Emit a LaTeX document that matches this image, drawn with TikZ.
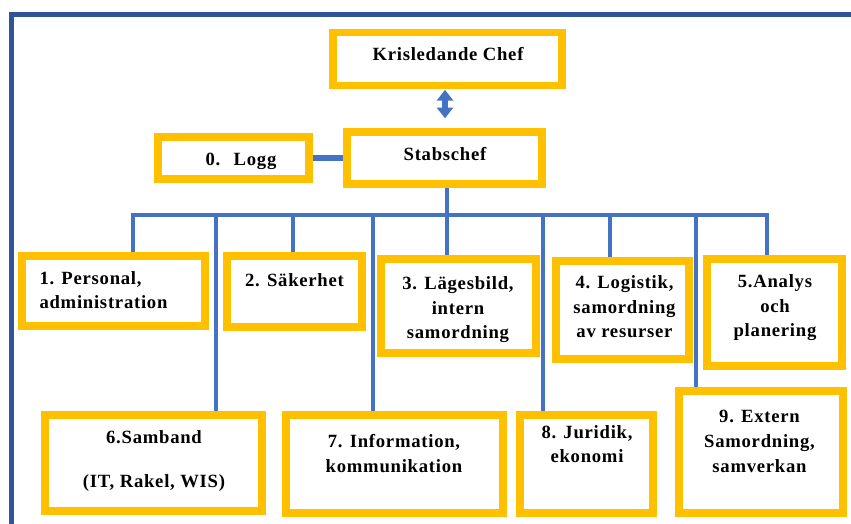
\documentclass[tikz,border=0pt]{standalone}
\usepackage{fontspec}
\newfontfamily\orgfont{Liberation Serif}[LetterSpace=4]
\usetikzlibrary{arrows.meta,backgrounds}
\definecolor{boxgold}{HTML}{FFC000}
\definecolor{linkblue}{HTML}{4472C4}
\definecolor{frameblue}{HTML}{2F5597}
\tikzset{every picture/.style={line width=0.75pt}}
\tikzset{
	orgbox/.style 2 args={draw=boxgold, line width=5.6pt, inner sep=0pt, minimum width=#1*0.75pt, minimum height=#2*0.75pt},
	orgtext/.style={font=\orgfont\bfseries\fontsize{14}{18.5}\selectfont, inner sep=0pt, align=center, anchor=base},
	link/.style={draw=linkblue, line width=3.2pt},
	logglink/.style={draw=linkblue, line width=5.2pt},
	updown/.style={draw=linkblue, line width=4pt, {Triangle[width=12pt,length=8pt]}-{Triangle[width=12pt,length=8pt]}},
	frame/.style={draw=frameblue, line width=3.4pt}
}

\begin{document}
\begin{tikzpicture}[x=0.75pt,y=0.75pt,yscale=-1,xscale=1]
	\useasboundingbox (0,0) rectangle (851,524);
	\clip (0,0) rectangle (851,524);
	
	%Frame
	\draw[frame] (11.5,540) -- (11.5,14.5) -- (870,14.5);
	
	%Boxes
	\node[orgbox={229}{53}] (kc) at (447.5,59) {};
	\node[orgbox={195}{52}] (sc) at (444.5,158) {};
	\node[orgbox={151}{42}] (logg) at (233.5,158) {};
	\node[orgbox={183}{70}] (b1) at (113.5,291) {};
	\node[orgbox={135}{71}] (b2) at (294.5,291.5) {};
	\node[orgbox={155}{94}] (b3) at (458.5,306) {};
	\node[orgbox={133}{98}] (b4) at (622.5,310) {};
	\node[orgbox={135}{107}] (b5) at (774.5,312.5) {};
	\node[orgbox={217}{96}] (b6) at (153.5,463) {};
	\node[orgbox={217}{98}] (b7) at (394.5,464) {};
	\node[orgbox={133}{98}] (b8) at (586.5,464) {};
	\node[orgbox={164}{122}] (b9) at (761,452) {};
	
	%Connectors, under the boxes
	\coordinate (bus) at (0,215);
	\begin{scope}[on background layer]
	\draw[updown, shorten <=0.5pt, shorten >=7.5pt] (445,0 |- kc.south) -- (445,0 |- sc.north);
	\draw[logglink] (logg) -- (sc);
	\draw[link] (447,0 |- sc.south) -- (447,0 |- bus);
	\draw[link] (133,0 |- b1.north) |- (767,0 |- bus) -- (767,0 |- b5.north);
	\foreach \x/\b in {293/b2, 447/b3, 610/b4, 216/b6, 373/b7, 543/b8, 696/b9}
		\draw[link] (\x,0 |- bus) -- (\x,0 |- \b.north);
	\end{scope}
	
	%Texts (base = last line)
	\node[orgtext] (kc-t) at (448,61) {Krisledande Chef};
	\node[orgtext] (sc-t) at (445,161) {Stabschef};
	\node[orgtext] (logg-t) at (241,166) {0.\hspace{10pt}Logg};
	\node[orgtext, align=left, anchor=base west] (b1-t) at (39,309) {1. Personal,\\administration};
	\node[orgtext] (b2-t) at (294.5,287) {2. Säkerhet};
	\node[orgtext] (b3-t) at (458,339) {3. Lägesbild,\\intern\\samordning};
	\node[orgtext] (b4-t) at (624.5,338) {4. Logistik,\\samordning\\av resurser};
	\node[orgtext] (b5-t) at (775,337) {5.Analys\\och\\planering};
	\node[orgtext] (b6-t) at (154,488) {6.Samband\\[15pt](IT, Rakel, WIS)};
	\node[orgtext] (b7-t) at (394,472.5) {7. Information,\\kommunikation};
	\node[orgtext] (b8-t) at (587,463) {8. Juridik,\\ekonomi};
	\node[orgtext] (b9-t) at (759.5,472) {9. Extern\\Samordning,\\samverkan};
	
\end{tikzpicture}
\end{document}
